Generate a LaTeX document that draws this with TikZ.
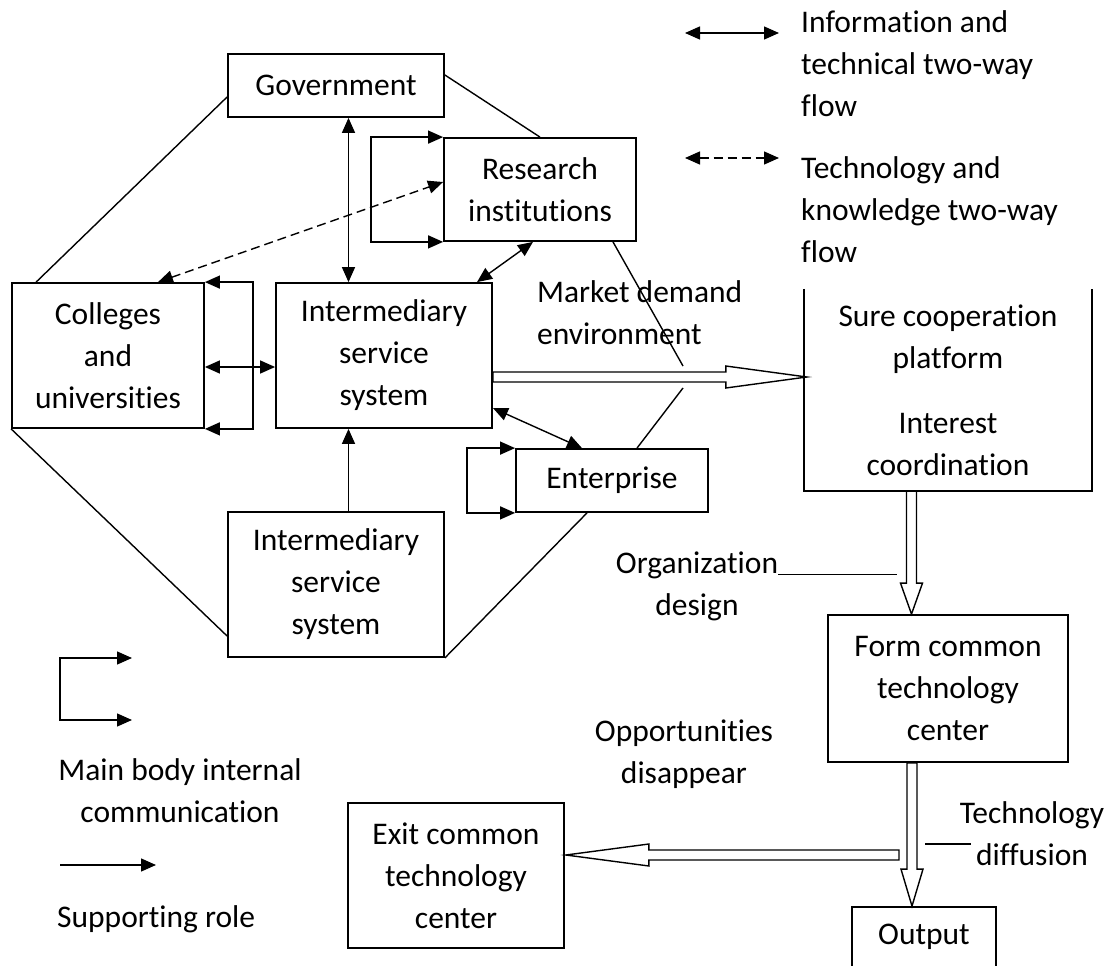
\documentclass[tikz,border=0pt]{standalone}
\usepackage{fontspec}
\setmainfont{Carlito}[Ligatures=NoCommon]
\usepackage{tikz}
\usetikzlibrary{calc,arrows.meta}
\newcommand{\linew}{1.4pt}
\newcommand{\boxw}{1.8pt}
\newcommand{\hollowarrow}[3]{%
\path ($(#2)!#3!(#1)$) coordinate (hb);
\draw[hollow] ($(#1)!5pt!90:(#2)$) -- ($(hb)!5pt!90:(#2)$) -- ($(hb)!11pt!90:(#2)$) -- (#2)
  -- ($(hb)!11pt!-90:(#2)$) -- ($(hb)!5pt!-90:(#2)$) -- ($(#1)!5pt!-90:(#2)$) -- cycle;}

\tikzset{
box/.style={draw, rectangle, line width=\boxw, inner sep=0pt, align=center},
plain/.style={line width=\linew},
oneway/.style={line width=\linew, -{Triangle[length=15pt,width=13pt]}},
twoway/.style={line width=\linew, {Triangle[length=15pt,width=13pt]}-{Triangle[length=15pt,width=13pt]}},
dashflow/.style={twoway, dash pattern=on 9pt off 5pt},
hollow/.style={draw, line width=\linew, line join=miter},
lbl/.style={inner sep=0pt}
}

\begin{document}
\fontsize{31.5pt}{42pt}\selectfont
\begin{tikzpicture}[x=1pt,y=-1pt]
\useasboundingbox (0,0) rectangle (1112,966);
%bodies
\node[box] (gov) at (336,85.5) [minimum width=216pt, minimum height=63pt] {Government};
\node[box] (res) at (540,189.5) [minimum width=192pt, minimum height=103pt] {Research\\institutions};
\node[box] (col) at (108,355.5) [minimum width=192pt, minimum height=145pt] {Colleges\\and\\universities};
\node[box] (int) at (384,355.5) [minimum width=216pt, minimum height=145pt] {Intermediary\\service\\system};
\node[box] (ent) at (612,480.5) [minimum width=192pt, minimum height=63pt] {Enterprise};
\node[box] (int2) at (336,584.5) [minimum width=216pt, minimum height=145pt] {Intermediary\\service\\system};
\node[lbl, align=center] (plat) at (948,390) [minimum width=288pt, minimum height=202pt] {Sure cooperation\\platform\\[23pt]Interest\\coordination};
\draw[line width=\boxw] (plat.north west) -- (plat.south west) -- (plat.south east) -- (plat.north east);
\node[box] (form) at (948,688.5) [minimum width=240pt, minimum height=147pt] {Form common\\technology\\center};
\node[box] (exit) at (456,875.5) [minimum width=216pt, minimum height=145pt] {Exit common\\technology\\center};
\node[box] (out) at (924,937) [minimum width=144pt, minimum height=60pt] {Output};
%labels
\node[lbl, align=left, anchor=west] (lgA) at (801,63.5) {Information and\\technical two-way\\flow};
\node[lbl, align=left, anchor=west] (lgB) at (801,209.5) {Technology and\\knowledge two-way\\flow};
\node[lbl, align=left, anchor=west] (mkt) at (537,313) {Market demand\\environment};
\node[lbl, align=center] (org) at (697,586.5) {Organization\\design};
\node[lbl, align=center] (opp) at (684,754) {Opportunities\\disappear};
\node[lbl, align=center] (dif) at (1032,833.5) {Technology\\diffusion};
\node[lbl, align=center] (lgC) at (180,790.5) {Main body internal\\communication};
\node[lbl, anchor=base west] (lgD) at (57,927) {Supporting role};
%legend
\coordinate (la1) at (685,33);
\coordinate (la2) at (779,33);
\coordinate (lb1) at (685,158);
\coordinate (lb2) at (779,158);
\coordinate (lc1) at (132,658);
\coordinate (lc2) at (132,720);
\coordinate (ld1) at (60,865);
\coordinate (ld2) at (156,865);
\draw[twoway] (la1) -- (la2);
\draw[dashflow] (lb1) -- (lb2);
\draw[twoway] (lc1) -- ++(-72,0) |- (lc2);
\draw[oneway] (ld1) -- (ld2);
%internal loops
\draw[twoway] (res.north west) -- ++(-72,0) |- (res.south west);
\draw[twoway] (col.north east) -- ++(48,0) |- (col.south east);
\draw[twoway] (ent.north west) -- ++(-48,0) |- (ent.south west);
%flows
\draw[twoway] ([xshift=12.5pt]gov.south) -- ([xshift=12.5pt]gov.south |- int.north);
\draw[oneway] ([xshift=12.5pt]int2.north) -- ([xshift=12.5pt]int2.north |- int.south);
\draw[twoway] ([yshift=-11.5pt]col.east) -- ([yshift=-11.5pt]col.east -| int.west);
\draw[dashflow] ([xshift=50pt]col.north) -- ([yshift=7.5pt]res.west);
\draw[twoway] ([xshift=-7pt]res.south) -- ([xshift=93pt]int.north);
\draw[twoway] ([yshift=-52.5pt]int.east) -- ([xshift=-30pt]ent.north);
%support lines
\coordinate (mk1) at (683,366);
\coordinate (mk2) at (683,388);
\draw[plain] ([yshift=-11.5pt]gov.west) -- ([xshift=25pt]col.north west);
\draw[plain] ([yshift=10.5pt]gov.east) -- (res.north);
\draw[plain] (col.south west) -- ([yshift=-51.5pt]int2.west);
\draw[plain] (int2.south east) -- ([xshift=-25pt]ent.south);
\draw[plain] ([xshift=73pt]res.south) -- (mk1);
\draw[plain] ([xshift=25pt]ent.north) -- (mk2);
\draw[plain] ([yshift=12pt]org.east) -- ++(119,0);
\coordinate (dl1) at (925,844);
\coordinate (dl2) at (971,844);
\draw[plain] (dl1) -- (dl2);
%wide arrows
\coordinate (mS) at ([yshift=-21.5pt]int.east);
\coordinate (mT) at ([xshift=3pt,yshift=13pt]plat.west);
\coordinate (pS) at ([xshift=-36.5pt]plat.south);
\coordinate (pT) at ([xshift=-36.5pt]form.north);
\coordinate (fS) at ([xshift=-36pt]form.south);
\coordinate (fT) at ([xshift=-12pt]out.north);
\coordinate (eS) at (899,855);
\coordinate (eT) at ([xshift=1pt,yshift=20.5pt]exit.east);
\hollowarrow{mS}{mT}{81pt}
\hollowarrow{pS}{pT}{31pt}
\hollowarrow{fS}{fT}{37pt}
\hollowarrow{eS}{eT}{83pt}
\end{tikzpicture}
\end{document}
